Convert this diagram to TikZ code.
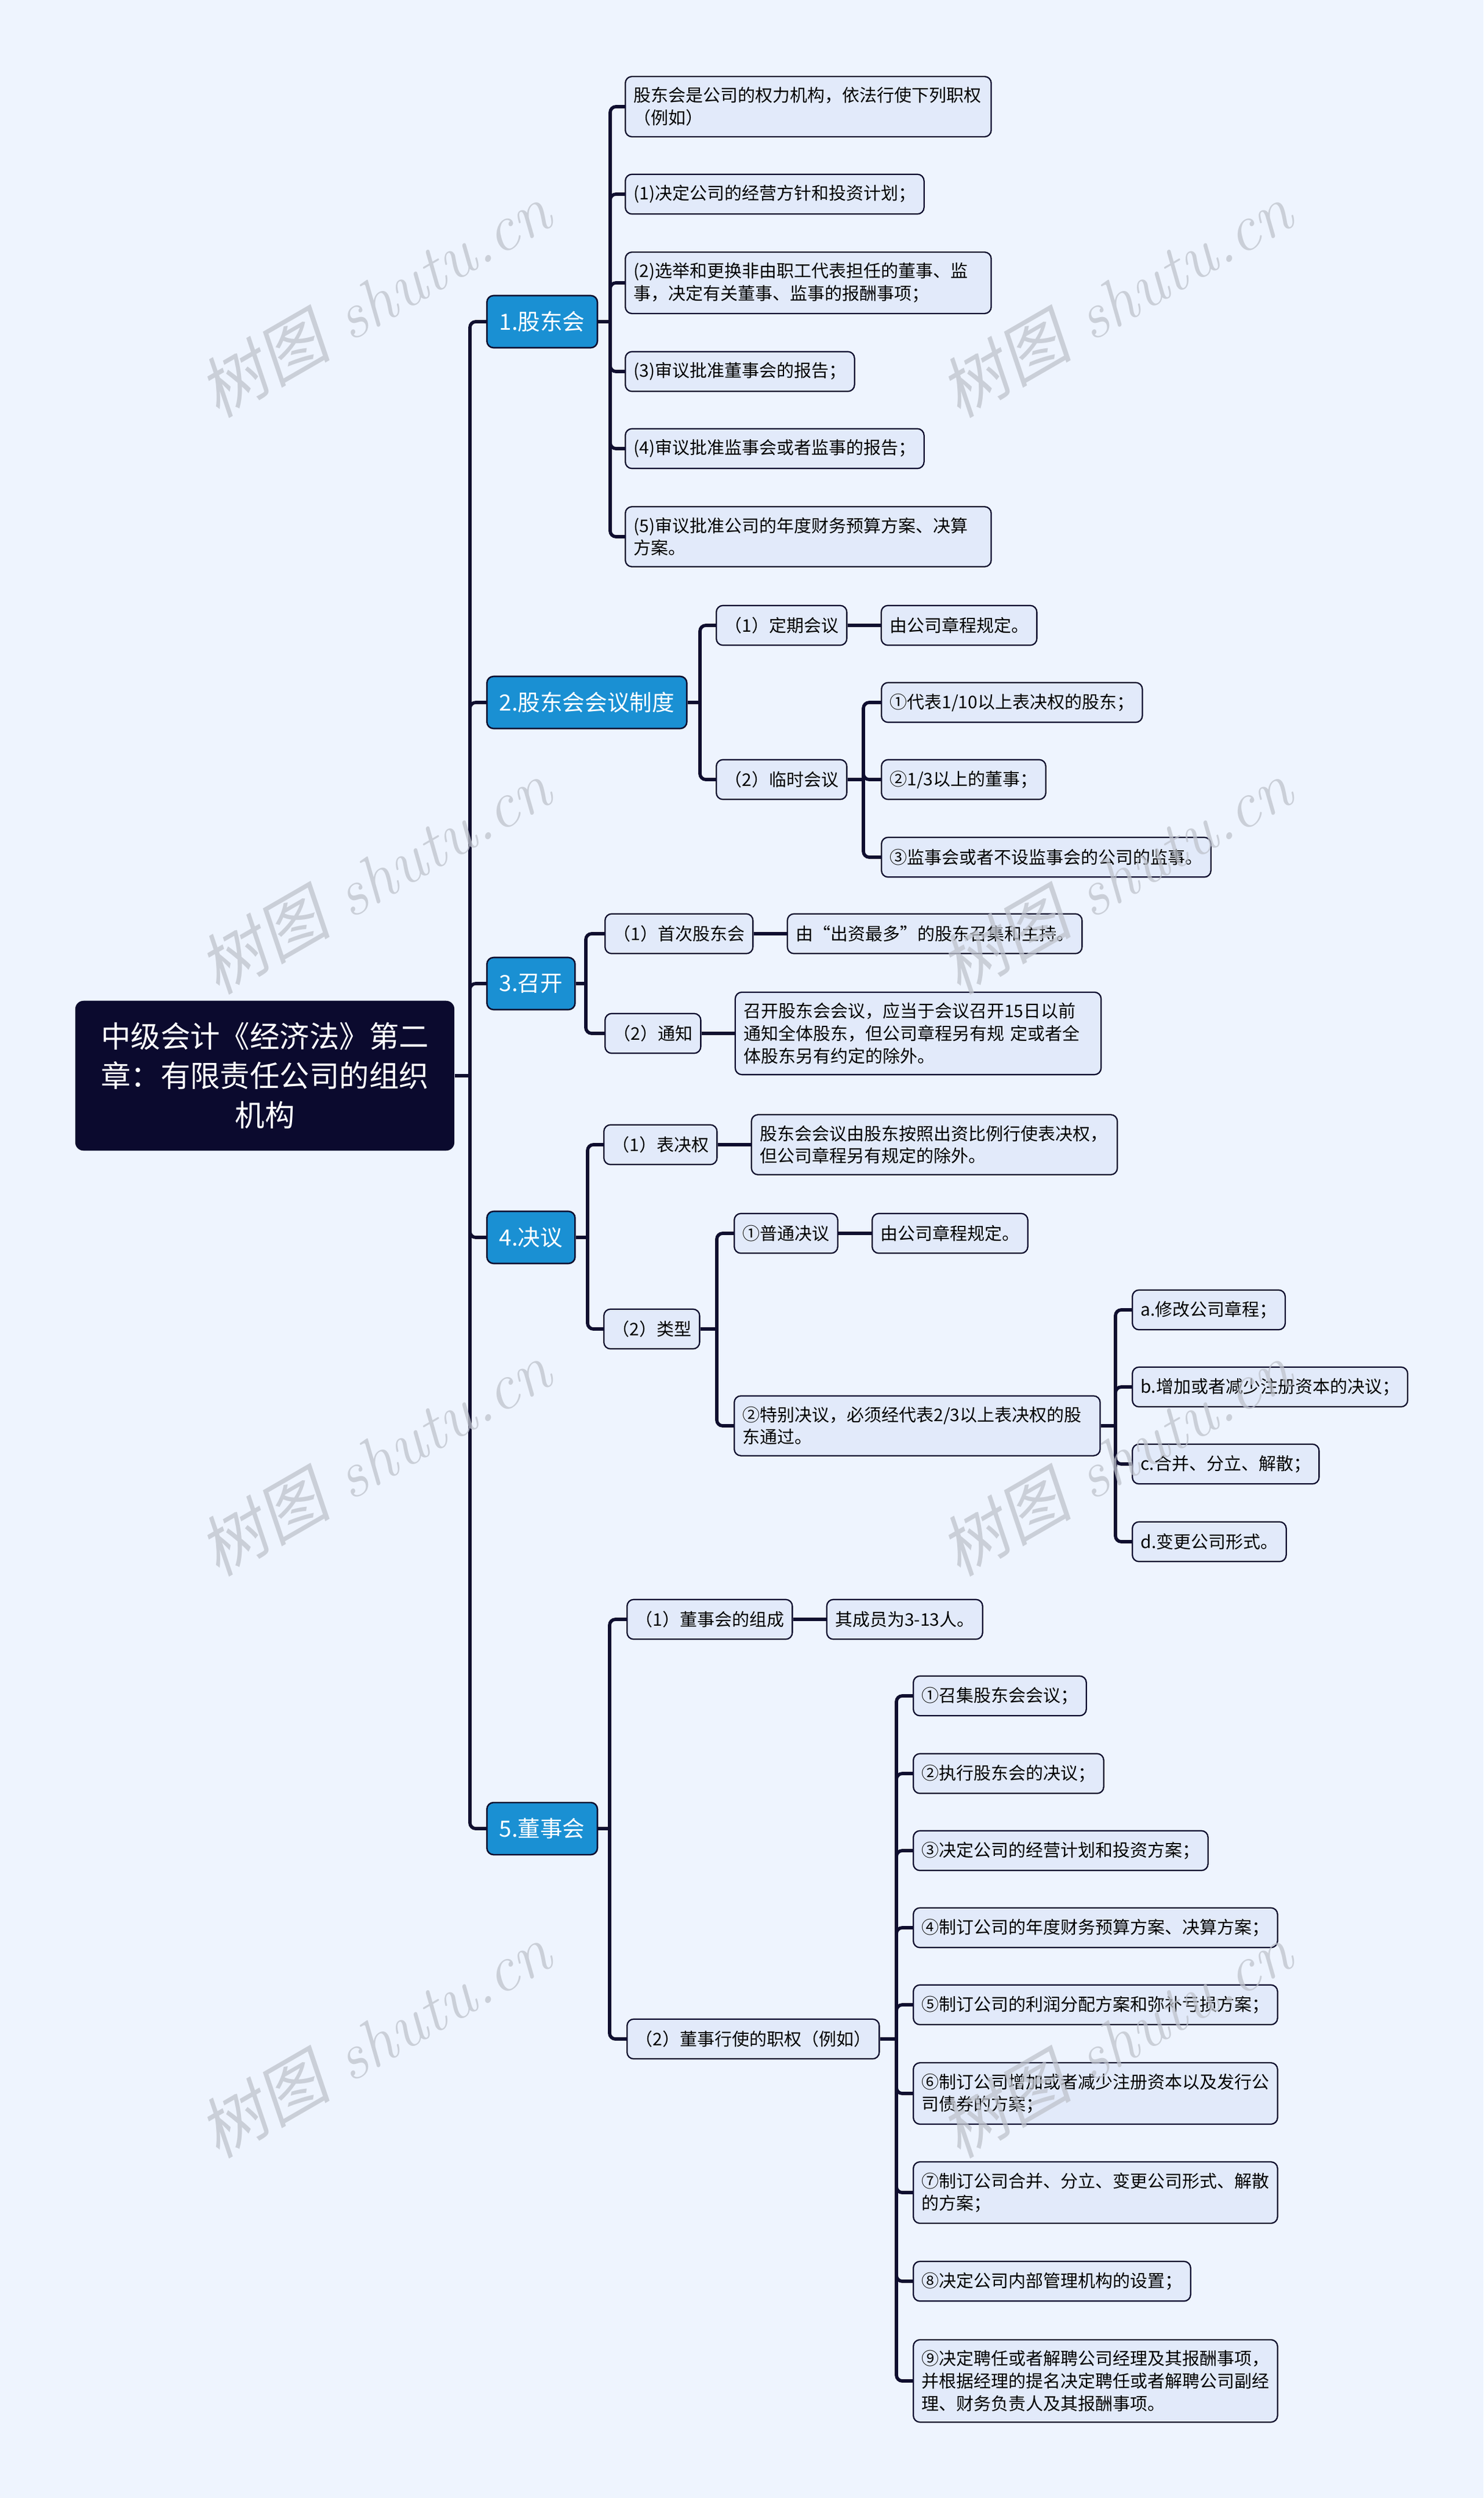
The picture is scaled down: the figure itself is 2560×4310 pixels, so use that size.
\documentclass[tikz,border=0pt]{standalone}
\usepackage{fontspec}
\newfontfamily\cjk{Noto Sans CJK SC}
\newfontfamily\cjkslant[FakeSlant=0.2]{Noto Sans CJK SC}
\usetikzlibrary{positioning}

\definecolor{bgcol}{HTML}{EEF4FE}
\definecolor{rootfill}{HTML}{0B0A2E}
\definecolor{topicfill}{HTML}{1A90D3}
\definecolor{leaffill}{HTML}{E2EAFA}
\definecolor{edgecol}{HTML}{0F0E2F}
\definecolor{wmcol}{HTML}{BFC3CC}

\begin{document}
\begin{tikzpicture}[x=0.35pt,y=-0.35pt,node distance=20pt,
        root/.style={rectangle,rounded corners=5pt,fill=rootfill,text=white,align=center,
            minimum width=229pt,minimum height=90.5pt,font=\cjk\fontsize{18}{23.8}\selectfont},
        topic/.style={rectangle,rounded corners=4pt,fill=topicfill,draw=edgecol,line width=0.9pt,
            text=white,anchor=west,inner xsep=7.5pt,minimum height=31.5pt,font=\cjk\fontsize{13.5}{16}\selectfont},
        leaf/.style={rectangle,rounded corners=4pt,fill=leaffill,draw=edgecol,line width=0.8pt,
            anchor=west,align=left,inner xsep=5pt,inner ysep=6.5pt,minimum height=24pt,
            font=\cjk\fontsize{10.5}{13.5}\selectfont},
        wide/.style={text width=211pt},
        link/.style={draw=edgecol,line width=2pt,rounded corners=3.5pt},
        wmark/.style={text=wmcol,opacity=0.75,rotate=30,font=\fontsize{40}{40}\selectfont}
        ]
        \fill[bgcol] (0,0) rectangle (2560,4310);
        \useasboundingbox (0,0) rectangle (2560,4310);

        \node (root) [root] at (457,1856) {中级会计《经济法》第二\\章：有限责任公司的组织\\机构};

        \node (gdh)  [topic] at (839,555)  {1.股东会};
        \node (hyzd) [topic] at (839,1212) {2.股东会会议制度};
        \node (zk)   [topic] at (839,1697) {3.召开};
        \node (jy)   [topic] at (839,2135) {4.决议};
        \node (dsh)  [topic] at (839,3155) {5.董事会};

        % 1.股东会
        \node (gdh0) [leaf,wide] at (1078,184) {股东会是公司的权力机构，依法行使下列职权\\（例如）};
        \node (gdh1) [leaf] at (1078,335) {(1)决定公司的经营方针和投资计划；};
        \node (gdh2) [leaf,wide] at (1078,488) {(2)选举和更换非由职工代表担任的董事、监\\事，决定有关董事、监事的报酬事项；};
        \node (gdh3) [leaf] at (1078,641) {(3)审议批准董事会的报告；};
        \node (gdh4) [leaf] at (1078,774) {(4)审议批准监事会或者监事的报告；};
        \node (gdh5) [leaf,wide] at (1078,926) {(5)审议批准公司的年度财务预算方案、决算\\方案。};

        % 2.股东会会议制度
        \node (dq)  [leaf] at (1235,1079) {（1）定期会议};
        \node (dqa) [leaf, right=of dq] {由公司章程规定。};
        \node (ls)  [leaf] at (1235,1345) {（2）临时会议};
        \node (ls1) [leaf] at (1520,1212) {①代表1/10以上表决权的股东；};
        \node (ls2) [leaf] at (1520,1345) {②1/3以上的董事；};
        \node (ls3) [leaf] at (1520,1479) {③监事会或者不设监事会的公司的监事。};

        % 3.召开
        \node (sc)  [leaf] at (1043,1611) {（1）首次股东会};
        \node (sca) [leaf, right=of sc] {由“出资最多”的股东召集和主持。};
        \node (tz)  [leaf] at (1043,1783) {（2）通知};
        \node (tza) [leaf,wide, right=of tz] {召开股东会会议，应当于会议召开15日以前\\通知全体股东，但公司章程另有规 定或者全\\体股东另有约定的除外。};

        % 4.决议
        \node (bjq)  [leaf] at (1041,1975) {（1）表决权};
        \node (bjqa) [leaf,wide, right=of bjq] {股东会会议由股东按照出资比例行使表决权，\\但公司章程另有规定的除外。};
        \node (lx)   [leaf] at (1041,2293) {（2）类型};
        \node (pt)   [leaf] at (1266,2128) {①普通决议};
        \node (pta)  [leaf, right=of pt] {由公司章程规定。};
        \node (tb)   [leaf,wide] at (1266,2460) {②特别决议，必须经代表2/3以上表决权的股\\东通过。};
        \node (tb1)  [leaf] at (1953,2260) {a.修改公司章程；};
        \node (tb2)  [leaf] at (1953,2393) {b.增加或者减少注册资本的决议；};
        \node (tb3)  [leaf] at (1953,2526) {c.合并、分立、解散；};
        \node (tb4)  [leaf] at (1953,2660) {d.变更公司形式。};

        % 5.董事会
        \node (zc)  [leaf] at (1081,2794) {（1）董事会的组成};
        \node (zca) [leaf, right=of zc] {其成员为3-13人。};
        \node (zq)  [leaf] at (1081,3518) {（2）董事行使的职权（例如）};
        \node (zq1) [leaf] at (1575,2926) {①召集股东会会议；};
        \node (zq2) [leaf] at (1575,3060) {②执行股东会的决议；};
        \node (zq3) [leaf] at (1575,3193) {③决定公司的经营计划和投资方案；};
        \node (zq4) [leaf] at (1575,3326) {④制订公司的年度财务预算方案、决算方案；};
        \node (zq5) [leaf] at (1575,3459) {⑤制订公司的利润分配方案和弥补亏损方案；};
        \node (zq6) [leaf] at (1575,3612) {⑥制订公司增加或者减少注册资本以及发行公\\司债券的方案；};
        \node (zq7) [leaf] at (1575,3783) {⑦制订公司合并、分立、变更公司形式、解散\\的方案；};
        \node (zq8) [leaf] at (1575,3936) {⑧决定公司内部管理机构的设置；};
        \node (zq9) [leaf] at (1575,4108) {⑨决定聘任或者解聘公司经理及其报酬事项，\\并根据经理的提名决定聘任或者解聘公司副经\\理、财务负责人及其报酬事项。};

        % junctions
        \coordinate (jroot) at (811,1856);
        \coordinate (jgdh)  at (1053,555);
        \coordinate (jhyzd) at (1208,1212);
        \coordinate (jls)   at (1490,1345);
        \coordinate (jzk)   at (1011,1697);
        \coordinate (jjy)   at (1014,2135);
        \coordinate (jlx)   at (1237,2293);
        \coordinate (jtb)   at (1925,2460);
        \coordinate (jdsh)  at (1052,3155);
        \coordinate (jzq)   at (1547,3518);

        \draw[link] (root.east) -- (jroot) ;
        \draw[link] (jroot) |- (gdh.west) ;
        \draw[link] (jroot) |- (hyzd.west) ;
        \draw[link] (jroot) |- (zk.west) ;
        \draw[link] (jroot) |- (jy.west) ;
        \draw[link] (jroot) |- (dsh.west) ;

        \draw[link] (gdh.east) -- (jgdh) ;
        \draw[link] (jgdh) |- (gdh0.west) ;
        \draw[link] (jgdh) |- (gdh1.west) ;
        \draw[link] (jgdh) |- (gdh2.west) ;
        \draw[link] (jgdh) |- (gdh3.west) ;
        \draw[link] (jgdh) |- (gdh4.west) ;
        \draw[link] (jgdh) |- (gdh5.west) ;

        \draw[link] (hyzd.east) -- (jhyzd) ;
        \draw[link] (jhyzd) |- (dq.west) ;
        \draw[link] (jhyzd) |- (ls.west) ;
        \draw[link] (dq) -- (dqa) ;
        \draw[link] (ls.east) -- (jls) ;
        \draw[link] (jls) |- (ls1.west) ;
        \draw[link] (jls) |- (ls2.west) ;
        \draw[link] (jls) |- (ls3.west) ;

        \draw[link] (zk.east) -- (jzk) ;
        \draw[link] (jzk) |- (sc.west) ;
        \draw[link] (jzk) |- (tz.west) ;
        \draw[link] (sc) -- (sca) ;
        \draw[link] (tz) -- (tza) ;

        \draw[link] (jy.east) -- (jjy) ;
        \draw[link] (jjy) |- (bjq.west) ;
        \draw[link] (jjy) |- (lx.west) ;
        \draw[link] (bjq) -- (bjqa) ;
        \draw[link] (lx.east) -- (jlx) ;
        \draw[link] (jlx) |- (pt.west) ;
        \draw[link] (jlx) |- (tb.west) ;
        \draw[link] (pt) -- (pta) ;
        \draw[link] (tb.east) -- (jtb) ;
        \draw[link] (jtb) |- (tb1.west) ;
        \draw[link] (jtb) |- (tb2.west) ;
        \draw[link] (jtb) |- (tb3.west) ;
        \draw[link] (jtb) |- (tb4.west) ;

        \draw[link] (dsh.east) -- (jdsh) ;
        \draw[link] (jdsh) |- (zc.west) ;
        \draw[link] (jdsh) |- (zq.west) ;
        \draw[link] (zc) -- (zca) ;
        \draw[link] (zq.east) -- (jzq) ;
        \draw[link] (jzq) |- (zq1.west) ;
        \draw[link] (jzq) |- (zq2.west) ;
        \draw[link] (jzq) |- (zq3.west) ;
        \draw[link] (jzq) |- (zq4.west) ;
        \draw[link] (jzq) |- (zq5.west) ;
        \draw[link] (jzq) |- (zq6.west) ;
        \draw[link] (jzq) |- (zq7.west) ;
        \draw[link] (jzq) |- (zq8.west) ;
        \draw[link] (jzq) |- (zq9.west) ;

        % watermark
        \node (wm1) [wmark] at (646,517)   {{\cjkslant 树图} \itshape shutu.cn};
        \node (wm2) [wmark] at (1925,517)  {{\cjkslant 树图} \itshape shutu.cn};
        \node (wm3) [wmark] at (646,1512)  {{\cjkslant 树图} \itshape shutu.cn};
        \node (wm4) [wmark] at (1925,1512) {{\cjkslant 树图} \itshape shutu.cn};
        \node (wm5) [wmark] at (646,2516)  {{\cjkslant 树图} \itshape shutu.cn};
        \node (wm6) [wmark] at (1925,2516) {{\cjkslant 树图} \itshape shutu.cn};
        \node (wm7) [wmark] at (646,3520)  {{\cjkslant 树图} \itshape shutu.cn};
        \node (wm8) [wmark] at (1925,3520) {{\cjkslant 树图} \itshape shutu.cn};
    \end{tikzpicture}
\end{document}
